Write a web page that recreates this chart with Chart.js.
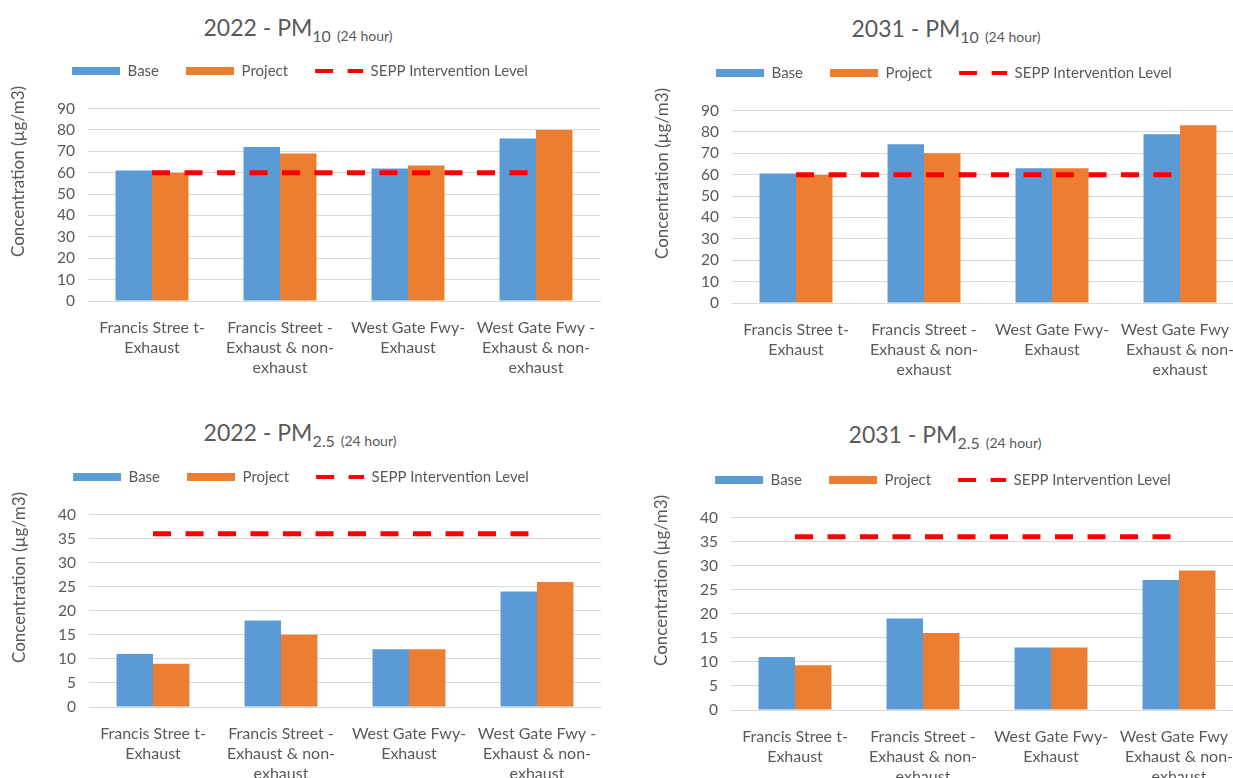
<!DOCTYPE html>
<html><head><meta charset="utf-8">
<script src="https://cdn.jsdelivr.net/npm/chart.js@4.4.1/dist/chart.umd.min.js"></script>
<style>
html,body{margin:0;padding:0;background:#fff;overflow:hidden;width:1233px;height:778px;position:relative}
.title{position:absolute;width:400px;text-align:center;font-family:Lato,sans-serif;color:#595959;font-size:23px;line-height:23px;white-space:nowrap}
.title .s1{font-size:16px;position:relative;top:6px}
.title .s2{font-size:14px;position:relative;top:5px;margin-left:6px}
canvas{position:absolute}
</style></head><body>
<div class="title" style="left:98px;top:16px">2022 - PM<span class="s1">10</span><span class="s2">(24 hour)</span></div>
<div class="title" style="left:746px;top:17px">2031 - PM<span class="s1">10</span><span class="s2">(24 hour)</span></div>
<div class="title" style="left:100px;top:421px">2022 - PM<span class="s1">2.5</span><span class="s2">(24 hour)</span></div>
<div class="title" style="left:745px;top:423px">2031 - PM<span class="s1">2.5</span><span class="s2">(24 hour)</span></div>
<canvas id="c1" width="615" height="360" style="left:0px;top:30px"></canvas>
<canvas id="c2" width="615" height="360" style="left:644px;top:32px"></canvas>
<canvas id="c3" width="615" height="360" style="left:1px;top:436px"></canvas>
<canvas id="c4" width="615" height="360" style="left:643px;top:439px"></canvas>
<script>
const categories = [["Francis Stree t-","Exhaust"],["Francis Street -","Exhaust & non-","exhaust"],["West Gate Fwy-","Exhaust"],["West Gate Fwy -","Exhaust & non-","exhaust"]];
const seriesNames = ["Base","Project","SEPP Intervention Level"];
const yTitleText = "Concentration (µg/m3)";

const base2022PM10 = [61, 72, 62, 76];
const project2022PM10 = [60, 69, 63.4, 80];
const sepp2022PM10 = [60, 60, 60, 60];

const base2031PM10 = [60.6, 74.2, 63, 78.9];
const project2031PM10 = [59.9, 70, 63, 83.1];
const sepp2031PM10 = [60, 60, 60, 60];

const base2022PM25 = [11, 18, 12, 24];
const project2022PM25 = [9, 15, 12, 26];
const sepp2022PM25 = [36, 36, 36, 36];

const base2031PM25 = [11, 19, 13, 27];
const project2031PM25 = [9.3, 16, 13, 29];
const sepp2031PM25 = [36, 36, 36, 36];

const pm10Max = 90, pm10Step = 10;
const pm25Max = 40, pm25Step = 5;

const BLUE = '#5B9BD5', ORANGE = '#ED7D31', RED = '#FF0000', TXT = '#595959', GRID = '#D9D9D9';
const FONT = 'Lato';
const DASH = [18, 14.5];

const legendGap = {
  id: 'legendGap',
  beforeLayout(chart) {
    const leg = chart.legend;
    if (leg && !leg._patched) {
      const fit = leg.fit;
      leg.fit = function () { fit.call(this); this.height += 20; };
      leg._patched = true;
    }
  }
};
const yTitlePlugin = {
  id: 'yTitle',
  afterDraw(chart) {
    const { ctx, chartArea } = chart;
    ctx.save();
    ctx.translate(chartArea.left - 69, chartArea.top + 63);
    ctx.rotate(-Math.PI / 2);
    ctx.font = '17px ' + FONT;
    ctx.fillStyle = TXT;
    ctx.textAlign = 'center';
    ctx.textBaseline = 'middle';
    ctx.fillText(yTitleText, 0, 0);
    ctx.restore();
  }
};

function makeChart(id, base, project, sepp, yMax, yStep) {
  new Chart(document.getElementById(id), {
    data: {
      labels: categories,
      datasets: [
        { type: 'bar', label: seriesNames[0], data: base, backgroundColor: BLUE, borderWidth: 0, order: 1,
          categoryPercentage: 0.57, barPercentage: 1.0 },
        { type: 'bar', label: seriesNames[1], data: project, backgroundColor: ORANGE, borderWidth: 0, order: 1,
          categoryPercentage: 0.57, barPercentage: 1.0 },
        { type: 'line', label: seriesNames[2], data: sepp, borderColor: RED, backgroundColor: RED, borderWidth: 5,
          borderDash: DASH, borderCapStyle: 'butt', pointRadius: 0, fill: false, tension: 0, order: 0 }
      ]
    },
    options: {
      responsive: false,
      animation: false,
      layout: { padding: { left: 0, right: 15, top: 6.5, bottom: 0 } },
      plugins: {
        tooltip: { enabled: false },
        title: { display: false },
        legend: {
          display: true,
          position: 'top',
          labels: {
            usePointStyle: true,
            pointStyleWidth: 48,
            boxHeight: 8,
            padding: 27,
            color: TXT,
            font: { family: FONT, size: 15 },
            generateLabels(chart) {
              const items = Chart.defaults.plugins.legend.labels.generateLabels(chart);
              items.forEach(it => {
                const ds = chart.data.datasets[it.datasetIndex];
                if (ds.type === 'line') {
                  it.pointStyle = 'line'; it.lineWidth = 4; it.strokeStyle = ds.borderColor;
                  it.lineDash = DASH; it.lineCap = 'butt';
                } else {
                  it.pointStyle = 'rect'; it.lineWidth = 0; it.fillStyle = ds.backgroundColor;
                  it.strokeStyle = ds.backgroundColor;
                }
                it.fontColor = TXT;
              });
              return items.sort((a, b) => a.datasetIndex - b.datasetIndex);
            }
          }
        }
      },
      scales: {
        x: {
          grid: { display: false },
          border: { display: true, color: GRID, width: 1 },
          ticks: { color: TXT, font: { family: FONT, size: 16, lineHeight: 1.25 }, padding: 9,
                   maxRotation: 0, minRotation: 0, autoSkip: false },
          afterFit(s) { s.height = 89; }
        },
        y: {
          min: 0, max: yMax,
          grid: { color: GRID, lineWidth: 1, drawTicks: false },
          border: { display: false },
          ticks: { stepSize: yStep, autoSkip: false, color: TXT,
                   font: { family: FONT, size: 15.5, lineHeight: 1 }, padding: 13 },
          afterFit(s) { s.width = 88; }
        }
      }
    },
    plugins: [legendGap, yTitlePlugin]
  });
}

makeChart('c1', base2022PM10, project2022PM10, sepp2022PM10, pm10Max, pm10Step);
makeChart('c2', base2031PM10, project2031PM10, sepp2031PM10, pm10Max, pm10Step);
makeChart('c3', base2022PM25, project2022PM25, sepp2022PM25, pm25Max, pm25Step);
makeChart('c4', base2031PM25, project2031PM25, sepp2031PM25, pm25Max, pm25Step);
</script>
</body></html>
